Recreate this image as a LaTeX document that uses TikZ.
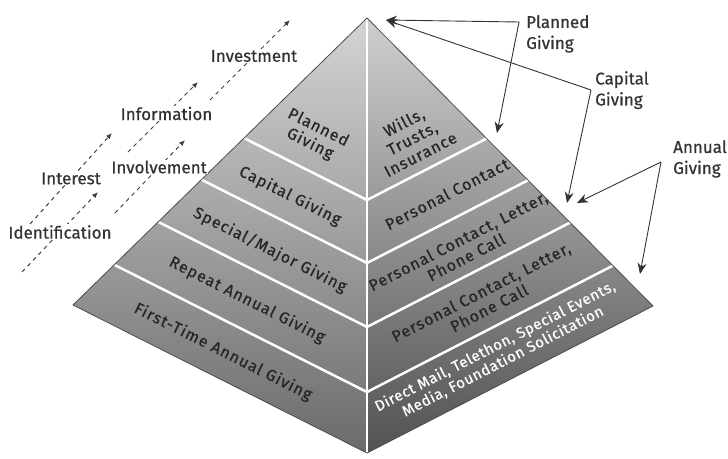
\documentclass[tikz,border=0pt]{standalone}
\usepackage{fontspec}
\setmainfont{Fira Sans}
\newfontfamily\pyrfont[LetterSpace=6.5,FakeBold=0.5]{Fira Sans}
\newfontfamily\directfont[LetterSpace=4,FakeBold=0.5]{Fira Sans}
\newfontfamily\lblfont[FakeBold=0.6]{Fira Sans}
\usetikzlibrary{calc,arrows.meta}

\tikzset{
  stage/.style={draw=black!75, line width=1pt, dash pattern=on 4pt off 4pt, -{Latex[length=6pt,width=5pt]}},
  stagelbl/.style={fill=white, inner sep=1pt, text=black!80, font=\lblfont\fontsize{17}{20}\selectfont},
  giftlbl/.style={anchor=north west, inner sep=0pt, align=left, text=black!80, font=\lblfont\fontsize{17}{21}\selectfont},
  pointer/.style={draw=black!80, line width=0.9pt, -{Stealth[length=11pt,width=9pt]}},
  tierL/.style={rotate=-26.7, align=center, inner sep=0pt, text=black!85, font=\pyrfont\fontsize{16}{18}\selectfont},
  tierR/.style={rotate=27.2, align=center, inner sep=0pt, text=black!85, font=\pyrfont\fontsize{16}{18}\selectfont},
  divider/.style={white, line width=2.5pt},
}

\begin{document}
\begin{tikzpicture}[x=1pt, y=-1pt]
   \useasboundingbox (0,0) rectangle (728,458);

   \coordinate (apex) at (367,18);
   \coordinate (lc) at (73,305);
   \coordinate (fc) at (367,453);
   \coordinate (rc) at (653,306);

   \shade[top color=black!17, bottom color=black!58] (apex) -- (lc) -- (fc) -- cycle;
   \shade[top color=black!19, bottom color=black!68] (apex) -- (fc) -- (rc) -- cycle;

   \draw[divider] ($(apex)!0.4184!(lc)$) -- ($(apex)!0.4184!(fc)$) -- ($(apex)!0.4184!(rc)$);
   \draw[divider] ($(apex)!0.5632!(lc)$) -- ($(apex)!0.5632!(fc)$) -- ($(apex)!0.5632!(rc)$);
   \draw[divider] ($(apex)!0.7103!(lc)$) -- ($(apex)!0.7103!(fc)$) -- ($(apex)!0.7103!(rc)$);
   \draw[divider] ($(apex)!0.8598!(lc)$) -- ($(apex)!0.8598!(fc)$) -- ($(apex)!0.8598!(rc)$);
   \draw[white, line width=2pt] (apex) -- (fc);
   \draw[black!70, line width=0.8pt, line join=round] (apex) -- (lc) -- (fc) -- (rc) -- cycle;

   \node[tierL] (planned) at (314,136) {Planned\\Giving};
   \node[tierL] (capital) at (290,196) {Capital Giving};
   \node[tierL] (major) at (270,250) {Special/Major Giving};
   \node[tierL] (repeated) at (247,300) {Repeat Annual Giving};
   \node[tierL] (firsttime) at (223,352) {First-Time Annual Giving};

   \node[tierR] (wills) at (412,138) {Wills,\\Trusts,\\Insurance};
   \node[tierR] (contact) at (447,194) {Personal Contact};
   \node[tierR] (letter) at (462,249) {Personal Contact, Letter,\\Phone Call};
   \node[tierR] (phone) at (485,300) {Personal Contact, Letter,\\Phone Call};
   \node[tierR, text=white, font=\directfont\fontsize{15}{17}\selectfont] (direct) at (499,354) {Direct Mail, Telethon, Special Events,\\Media, Foundation Solicitation};

   \coordinate (ident0) at (22,272);
   \coordinate (ident1) at (98,192);
   \draw[stage] (ident0) -- node[stagelbl] (ident) {Identification} (ident1);

   \coordinate (inter0) at (30,224);
   \coordinate (inter1) at (112,133);
   \draw[stage] (inter0) -- node[stagelbl] (inter) {Interest} (inter1);

   \coordinate (invol0) at (115,213);
   \coordinate (invol1) at (185,140);
   \draw[stage] (invol0) -- node[stagelbl, pos=0.63] (invol) {Involvement} (invol1);

   \coordinate (info0) at (128,152);
   \coordinate (info1) at (198,82);
   \draw[stage] (info0) -- node[stagelbl, pos=0.55] (info) {Information} (info1);

   \coordinate (invest0) at (210,100);
   \coordinate (invest1) at (290,20);
   \draw[stage] (invest0) -- node[stagelbl, pos=0.55] (invest) {Investment} (invest1);

   \node[giftlbl] (plan) at (526,15) {Planned\\Giving};
   \node[giftlbl] (cap) at (595,71) {Capital\\Giving};
   \node[giftlbl] (annual) at (673,140) {Annual\\Giving};

   \coordinate (planfork) at (519,22);
   \coordinate (capfork) at (591,90);
   \coordinate (annfork) at (661,162);
   \coordinate (tipapex) at (386,20);
   \coordinate (tipplan) at (497,133);
   \coordinate (tipcap) at (567,203);
   \coordinate (tipann) at (577,203);
   \coordinate (tipbase) at (640,274);

   \draw[pointer] (planfork) -- (tipapex);
   \draw[pointer] (planfork) -- (tipplan);
   \draw[pointer] (capfork) -- (tipapex);
   \draw[pointer] (capfork) -- (tipcap);
   \draw[pointer] (annfork) -- (tipann);
   \draw[pointer] (annfork) -- (tipbase);
\end{tikzpicture}
\end{document}
